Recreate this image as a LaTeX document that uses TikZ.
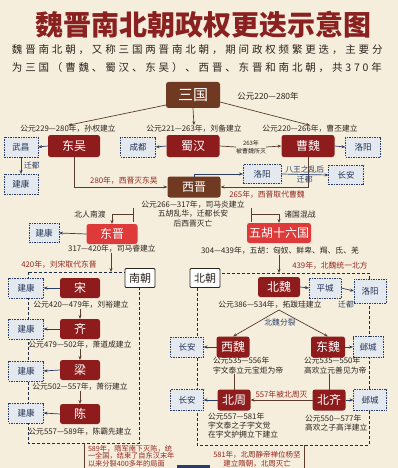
\documentclass[tikz,border=0pt]{standalone}
\usepackage{fontspec}
\setmainfont{Noto Sans CJK SC}
\usetikzlibrary{arrows.meta}
\definecolor{bg}{RGB}{245,238,221}
\definecolor{titlered}{RGB}{138,32,32}
\definecolor{dred}{RGB}{142,28,28}
\definecolor{bred}{RGB}{222,58,58}
\definecolor{brownbox}{RGB}{112,58,34}
\definecolor{navy}{RGB}{40,62,105}
\definecolor{locfill}{RGB}{228,233,240}
\definecolor{txt}{RGB}{45,35,30}
\definecolor{lred}{RGB}{150,40,30}
\definecolor{lineb}{RGB}{90,60,45}
\begin{document}
\begin{tikzpicture}[x=1pt,y=-1pt,
 every node/.style={inner sep=0pt, outer sep=0pt},
 dynd/.style={fill=dred, text=white, rounded corners=2.5pt, minimum height=21pt, font=\fontsize{12}{12}\selectfont},
 dynb/.style={dynd, fill=brownbox},
 dynr/.style={dynd, fill=bred},
 loc/.style={draw=navy, dash pattern=on 1.5pt off 1pt, line width=0.6pt, fill=locfill, text=navy!80!black, minimum height=20pt, font=\fontsize{8.5}{8.5}\selectfont},
 lbl/.style={text=txt, font=\fontsize{7.8}{9.5}\selectfont, align=center},
 rlbl/.style={lbl, text=lred},
 nlbl/.style={lbl, text=navy},
 arr/.style={-{Stealth[length=4pt,width=3pt]}, line width=0.7pt, draw=lineb},
 narr/.style={arr, draw=navy},
 ln/.style={line width=0.7pt, draw=lineb},
 region/.style={draw=navy!70!black, dash pattern=on 3pt off 2pt, line width=0.7pt},
 eralbl/.style={draw=txt, fill=white, line width=0.8pt, minimum width=30pt, minimum height=19pt, font=\fontsize{11}{11}\selectfont, text=txt, rounded corners=1pt}
]
\clip (0,0) rectangle (398,468);
\fill[bg] (0,0) rectangle (398,468);
% title
\node[text=titlered, font=\fontsize{28}{28}\selectfont\bfseries] (title) at (203,25) {魏晋南北朝政权更迭示意图};
\node[anchor=west, text=txt, font=\fontsize{10.5}{10.5}\selectfont\addfontfeature{LetterSpace=27}] (sub1) at (12,50) {魏晋南北朝，又称三国两晋南北朝，期间政权频繁更迭，主要分};
\node[anchor=west, text=txt, font=\fontsize{10.5}{10.5}\selectfont\addfontfeature{LetterSpace=27}] (sub2) at (12,68) {为三国（曹魏、蜀汉、东吴）、西晋、东晋和南北朝，共370年};

% regions
\draw[region] (28,272) rectangle (139,443);
\draw[region] (197,273) rectangle (369,445);

% three kingdoms
\node[dynb, minimum width=54pt, minimum height=26pt, font=\fontsize{15}{15}\selectfont] (sg) at (193,95) {三国};
\node[lbl, font=\fontsize{8.5}{8.5}\selectfont] (sgl) at (268,96) {公元220—280年};
\node[lbl] (dwl) at (68,129) {公元229—280年，孙权建立};
\node[lbl] (shl) at (194,129) {公元221—263年，刘备建立};
\node[lbl] (cwl) at (310,129) {公元220—266年，曹丕建立};
\node[dynd, minimum width=52pt, minimum height=22pt] (dw) at (74,146) {东吴};
\node[dynd, minimum width=53pt, minimum height=22pt] (sh) at (193,146) {蜀汉};
\node[dynd, minimum width=53pt, minimum height=22pt] (cw) at (308,146) {曹魏};
\node[loc, minimum width=34pt] (wc) at (21,147) {武昌};
\node[loc, minimum width=34pt] (jk1) at (21,184) {建康};
\node[loc, minimum width=35pt] (cd) at (138,147) {成都};
\node[loc, minimum width=35pt] (ly1) at (363,147) {洛阳};
\node[lbl, font=\fontsize{6}{8}\selectfont] (l263) at (251,147) {263年\\被曹魏所灭};

\draw[arr] ([yshift=3pt]sg.south west) -- (dwl.north);
\draw[arr] (sg.south) -- (shl.north);
\draw[arr] ([yshift=6pt]sg.south east) -- (cwl.north);
\draw[narr] (dw.west) -- (wc.east);
\draw[narr] (wc.south) -- node[nlbl, right=3pt]{迁都} (jk1.north);
\draw[narr] (sh.west) -- (cd.east);
\draw[narr] (cw.east) -- (ly1.west);
\draw[ln] (sh.east) -- (l263.west);
\draw[arr] (l263.east) -- (cw.west);

% western jin
\node[dynb, minimum width=53pt] (xj) at (194,187) {西晋};
\node[loc, minimum width=38pt, minimum height=19pt] (ly2) at (262,174) {洛阳};
\node[loc, minimum width=35pt, minimum height=19pt] (ca1) at (346,175) {长安};
\node[rlbl] (l280) at (124,181) {280年，西晋灭东吴};
\node[rlbl] (l265) at (267,195) {265年，西晋取代曹魏};
\draw[arr] (dw.south) |- (xj.west);
\draw[arr] (cw.south) |- (xj.east);
\draw[narr] (xj.north) |- (ly2.west);
\draw[narr] (ly2.east) -- node[nlbl, above=1.5pt]{八王之乱后} node[nlbl, below=2pt]{迁都} (ca1.west);
\node[lbl] (xjl) at (193,214) {公元266—317年，司马炎建立\\五胡乱华，迁都长安\\后西晋灭亡};

% eastern jin / sixteen kingdoms
\node[dynr, minimum width=51pt, minimum height=20pt] (dj) at (112,234) {东晋};
\node[dynr, minimum width=64pt, minimum height=20pt] (wh) at (279,233) {五胡十六国};
\node[loc, minimum width=30pt, minimum height=19pt] (jk2) at (44,233) {建康};
\coordinate (tl1) at (133,208);
\coordinate (tl2) at (133,222);
\coordinate (tlm) at (133,214);
\coordinate (tr1) at (251,208);
\coordinate (tr2) at (251,222);
\coordinate (trm) at (251,214);
\draw[ln] (tl1) -- (tl2);
\draw[arr] (tlm) -| (dj.north);
\draw[ln] (tr1) -- (tr2);
\draw[arr] (trm) -| (wh.north);
\node[lbl] (lnr) at (90,215) {北人南渡};
\node[lbl] (lzg) at (300,215) {诸国混战};
\draw[narr] (dj.west) -- (jk2.east);
\node[lbl] (djl) at (112,249) {317—420年，司马睿建立};
\node[lbl] (whl) at (280,251) {304—439年，五胡：匈奴、鲜卑、羯、氐、羌};
\coordinate (nt) at (111,272);
\coordinate (bt) at (279,273);
\draw[arr] (djl.south -| nt) -- (nt);
\draw[arr] (whl.south -| bt) -- (bt);
\node[rlbl] (l420) at (59,265) {420年，刘宋取代东晋};
\node[rlbl] (l439) at (330,266) {439年，北魏统一北方};

% southern dynasties
\node[eralbl] (nc) at (140,278) {南朝};
\node[eralbl] (bc) at (205,278) {北朝};
\node[dynd, minimum width=40pt, minimum height=20pt] (song) at (80,288) {宋};
\node[dynd, minimum width=40pt, minimum height=20pt] (qi) at (80,329) {齐};
\node[dynd, minimum width=40pt, minimum height=20pt] (liang) at (80,370) {梁};
\node[dynd, minimum width=40pt, minimum height=20pt] (chen) at (80,414) {陈};
\node[loc, minimum width=35pt] (jk3) at (26,288) {建康};
\node[loc, minimum width=35pt] (jk4) at (26,329) {建康};
\node[loc, minimum width=35pt] (jk5) at (26,371) {建康};
\node[loc, minimum width=35pt] (jk6) at (26,413) {建康};
\draw[narr] (song.west) -- (jk3.east);
\draw[narr] (qi.west) -- (jk4.east);
\draw[narr] (liang.west) -- (jk5.east);
\draw[narr] (chen.west) -- (jk6.east);
\node[lbl] (songl) at (81,305) {公元420—479年，刘裕建立};
\node[lbl] (qil) at (80,345) {公元479—502年，萧道成建立};
\node[lbl] (liangl) at (80,387) {公元502—557年，萧衍建立};
\node[lbl] (chenl) at (80,432) {公元557—589年，陈霸先建立};
\draw[arr] (songl.south -| song.south) -- (qi.north);
\draw[arr] (qil.south -| qi.south) -- (liang.north);
\draw[arr] (liangl.south -| liang.south) -- (chen.north);

% northern dynasties
\node[dynd, minimum width=42pt, minimum height=20pt] (bw) at (279,287) {北魏};
\node[loc, minimum width=32pt] (pc) at (325,288) {平城};
\node[loc, minimum width=32pt, minimum height=24pt] (ly3) at (370,291) {洛阳};
\draw[narr] (bw.east) -- (pc.west);
\draw[narr] (pc.east) -- (ly3.west);
\node[nlbl] (lqd) at (346,305) {迁都};
\node[lbl] (bwl) at (270,305) {公元386—534年，拓跋珪建立};
\coordinate (apex) at (279,310);
\node[dynd, minimum width=33pt] (xw) at (233,347) {西魏};
\node[dynd, minimum width=34pt] (dwe) at (328,347) {东魏};
\node[loc, minimum width=33pt] (ca2) at (187,347) {长安};
\node[loc, minimum width=30pt, minimum height=21pt] (yc1) at (368,347) {邺城};
\draw[arr] (apex) -- (xw.north);
\draw[arr] (apex) -- (dwe.north);
\node[nlbl] (lfl) at (280,323) {北魏分裂};
\draw[narr] (xw.west) -- (ca2.east);
\draw[narr] (dwe.east) -- (yc1.west);
\node[lbl, anchor=north west, align=left] (xwl) at (213,357) {公元535—556年\\宇文泰立元宝炬为帝};
\node[lbl, anchor=north west, align=left] (dwel) at (304,357) {公元535—550年\\高欢立元善见为帝};
\node[dynd, minimum width=33pt] (bz) at (234,400) {北周};
\node[dynd, minimum width=33pt] (bq) at (329,400) {北齐};
\node[loc, minimum width=33pt, minimum height=21pt] (ca3) at (187,400) {长安};
\node[loc, minimum width=33pt, minimum height=21pt] (yc2) at (370,400) {邺城};
\draw[ln] (xwl.south -| bz.north) -- (bz.north);
\draw[ln] (dwel.south -| bq.north) -- (bq.north);
\draw[arr] (bq.west) -- node[rlbl, above=2pt]{557年被北周灭} (bz.east);
\draw[narr] (bz.west) -- (ca3.east);
\draw[narr] (bq.east) -- (yc2.west);
\node[lbl, anchor=north west, align=left, font=\fontsize{7.8}{9}\selectfont] (bzl) at (208,413) {公元557—581年\\宇文泰之子宇文觉\\在宇文护拥立下建立};
\node[lbl, anchor=north west, align=left, font=\fontsize{7.8}{9}\selectfont] (bql) at (305,415) {公元550—577年\\高欢之子高洋建立};

% bottom
\coordinate (nb) at (84,443);
\coordinate (nb2) at (84,470);
\coordinate (bb) at (304,445);
\coordinate (bb2) at (304,470);
\draw[ln] (nb) -- (nb2);
\draw[ln] (bb) -- (bb2);
\node[rlbl, anchor=north west, align=left, font=\fontsize{7.2}{7.6}\selectfont] (l589) at (88,445) {589年，隋军南下灭陈，统\\一全国，结束了自东汉末年\\以来分裂400多年的局面};
\node[rlbl, font=\fontsize{7.5}{9}\selectfont] (l581) at (257,459) {581年，北周静帝禅位杨坚\\建立隋朝，北周灭亡};
\fill[navy] (177,465) rectangle (210,480);
\end{tikzpicture}
\end{document}
